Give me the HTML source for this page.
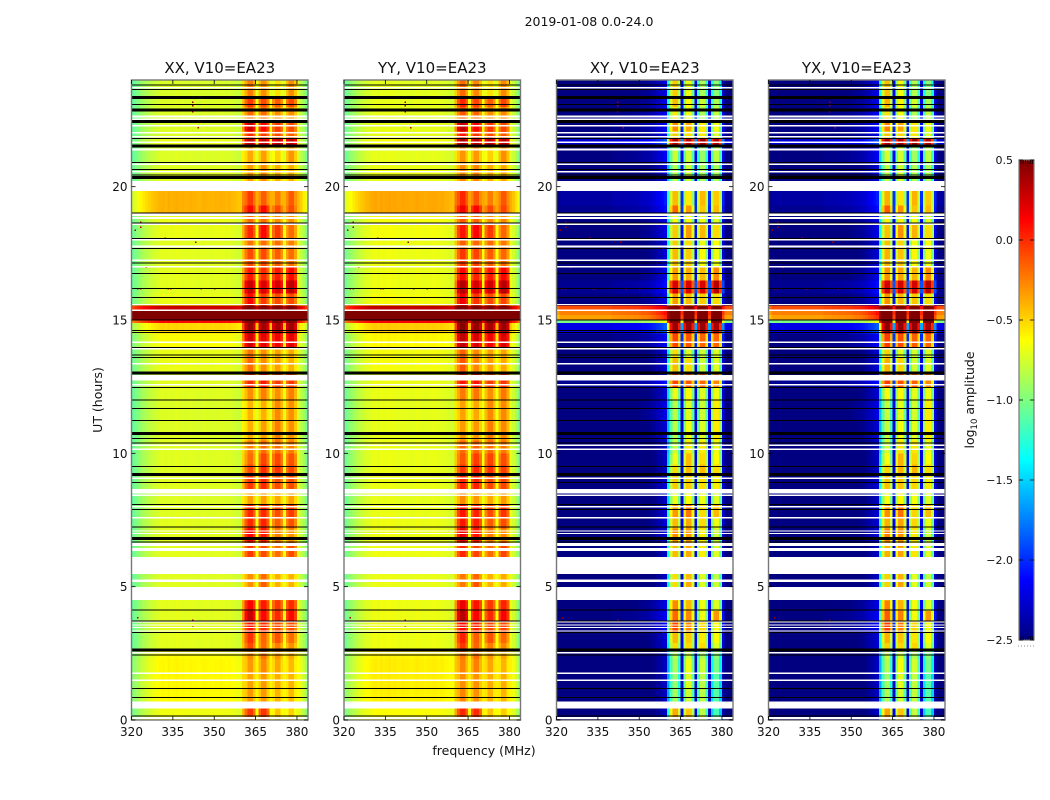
<!DOCTYPE html>
<html lang="en">
<head>
<meta charset="utf-8">
<title>2019-01-08 0.0-24.0</title>
<style>
html,body{margin:0;padding:0;background:#fff}
svg{display:block}
text{font-family:"DejaVu Sans","Liberation Sans",sans-serif;fill:#111}
</style>
</head>
<body>
<svg id="figure" xmlns="http://www.w3.org/2000/svg" width="1050" height="800" viewBox="0 0 1050 800">
<text x="589" y="26" font-size="12.5" text-anchor="middle">2019-01-08 0.0-24.0</text>
<text x="484" y="755" font-size="12.5" text-anchor="middle">frequency (MHz)</text>
<text transform="translate(102,400) rotate(-90)" font-size="12.5" text-anchor="middle">UT (hours)</text>
<g id="panels"></g>
<g id="colorbar"></g>
<text transform="translate(974,400) rotate(-90)" font-size="12.5" text-anchor="middle">log<tspan font-size="8.5" dy="3">10</tspan><tspan dy="-3"> amplitude</tspan></text>
</svg>
<script>
// Time-band edges of the heatmap rows (UT hours)
const timeEdges = [0,.2,.44,.7,1.2,1.8,2.3,2.6,2.9,3.3,3.7,4.1,4.5,5,5.3,5.5,6.12,6.7,7.2,7.6,8.1,8.6,9.2,9.6,10,10.5,11.2,12,12.5,13,13.6,14,14.5,14.9,15,15.2,15.4,15.55,16,16.5,17,17.7,18,18.65,19,19.3,19.85,20.2,20.9,21.5,21.8,22.1,22.45,23,23.35,24];
// Row levels in log10 amplitude: [out-of-band, sub-band 1, 2, 3, 4]
const xxLevels = [
[-.52,-.05,.02,-.36,-.4],[-.52,.03,.05,-.38,-.42],[-.52,-.22,-.22,-.37,-.37],[-.47,-.25,-.25,-.33,-.35],[-.46,-.28,-.25,-.31,-.33],
[-.46,-.25,-.2,-.29,-.35],[-.48,-.22,-.14,-.25,-.31],[-.56,-.02,-.12,-.17,-.22],[-.56,.05,-.1,-.04,-.12],[-.56,.13,.08,-.02,-.02],
[-.56,.35,.18,.08,.18],[-.56,.2,.13,.03,.08],[-.56,-.02,-.02,-.02,-.02],[-.57,-.22,-.07,-.32,-.32],[-.57,-.22,-.12,-.32,-.32],
[-.57,-.22,-.12,-.22,-.22],[-.56,.03,-.02,-.12,-.02],[-.56,.2,.13,-.17,-.22],[-.56,.08,.1,-.07,-.04],[-.57,.08,.08,-.02,.03],
[-.58,-.27,-.27,-.3,-.27],[-.57,.03,.08,-.02,-.02],[-.57,-.02,.08,.06,0],[-.57,-.12,0,0,-.04],[-.57,-.17,-.12,-.12,-.17],
[-.58,-.32,-.27,-.17,-.22],[-.58,-.34,-.32,-.2,-.22],[-.57,-.22,-.17,-.22,-.17],[-.56,.08,.13,.03,.03],[-.54,-.12,-.22,-.27,-.32],
[-.54,-.14,-.22,-.27,-.3],[-.49,.33,.28,.23,.28],[-.36,.5,.48,.46,.48],[.26,.68,.68,.68,.68],[.98,.98,.98,.98,.98],
[.98,.98,.98,.98,.98],[.43,.68,.68,.68,.68],[-.54,.18,.03,-.02,-.02],[-.56,.36,.3,.33,.4],[-.56,.13,.08,.13,.18],
[-.56,-.02,-.02,-.07,-.12],[-.56,-.14,-.12,-.12,-.17],[-.54,.08,.18,.03,-.12],[-.54,-.12,-.12,-.22,-.22],[-.25,.18,.18,-.02,-.02],
[-.25,.03,-.07,-.17,-.07],[-.25,-.02,-.02,-.12,-.12],[-.57,-.27,-.22,-.32,-.32],[-.58,-.3,-.27,-.42,-.24],[-.54,.38,.36,.38,.38],
[-.58,.08,.03,-.02,-.07],[-.58,.33,.18,.03,-.02],[-.58,-.12,-.12,-.22,-.22],[-.58,.03,-.02,-.07,-.02],[-.59,-.17,-.22,-.47,-.22]
];
const xyLevels = [
[-2.5,-.35,-.45,-.8,-1.1],[-2.5,-.4,-.5,-.85,-1.2],[-2.4,-.8,-.8,-.9,-1.1],[-2.5,-.9,-.8,-.85,-1.15],[-2.5,-.95,-.75,-.85,-1.15],
[-2.5,-.9,-.7,-.8,-1.05],[-2.5,-.85,-.8,-.9,-1],[-2.45,-.55,-.55,-.55,-.75],[-2.45,-.45,-.5,-.6,-.65],[-2.35,-.1,-.3,-.55,-.65],
[-2.35,-.2,-.3,-.7,-.35],[-2.4,-.3,-.45,-.7,-.75],[-2.5,-.5,-.5,-.7,-.8],[-2.5,-.55,-.4,-.75,-.8],[-2.5,-.55,-.45,-.75,-.85],
[-2.5,-.55,-.45,-.7,-.8],[-2.5,-.45,-.4,-.6,-.75],[-2.45,-.3,-.35,-.6,-.8],[-2.45,-.45,-.4,-.55,-.7],[-2.45,-.35,-.25,-.55,-.45],
[-2.5,-.7,-.65,-.7,-.75],[-2.45,-.5,-.5,-.55,-.6],[-2.5,-.55,-.45,-.45,-.55],[-2.5,-.7,-.45,-.55,-.65],[-2.5,-.8,-.6,-.6,-.7],
[-2.45,-.85,-.7,-.75,-.6],[-2.4,-.85,-.75,-.8,-.6],[-2.45,-.7,-.65,-.75,-.7],[-2.3,-.1,-.15,-.2,-.3],[-2.45,-.45,-.55,-.8,-.75],
[-2.45,-.55,-.75,-.8,-.75],[-2.35,-.1,-.15,-.2,-.2],[-2.05,.4,.4,.4,.35],[-.85,.8,.8,.8,.8],[-.2,.95,.95,.95,.95],
[-.1,.95,.95,.95,.95],[.05,.8,.8,.8,.8],[-2.4,-.35,-.45,-.5,-.55],[-2.3,.2,.2,.2,.3],[-2.4,-.35,-.4,-.45,-.3],
[-2.45,-.45,-.5,-.65,-.7],[-2.45,-.5,-.55,-.7,-.65],[-2.4,-.5,-.35,-.45,-.55],[-2.4,-.65,-.65,-.7,-.75],[-2.3,-.2,-.35,-.5,-.45],
[-2.25,-.45,-.6,-.45,-.5],[-2.3,-.5,-.6,-.5,-.5],[-2.45,-.85,-.8,-.9,-.9],[-2.35,-.8,-.8,-.95,-.85],[-2.1,.3,.3,.35,.3],
[-2.4,-.5,-.55,-.6,-.75],[-2.35,-.3,-.4,-.6,-.7],[-2.35,-.6,-.7,-.9,-.85],[-2.4,-.45,-.65,-.8,-.9],[-2.4,-.5,-.7,-.9,-1]
];
// Per-polarisation offsets, [out-of-band, sub-band 1..4]
const xxOffset = [-.15,-.12,-.12,-.12,-.12];
const yyOffset = [-.12,-.06,-.1,-.12,-.1];
const xyOffset = [-.15,-.05,-.05,-.05,-.05];
const yxOffset = [-.15,-.02,-.03,-.03,-.05];
// Channel structure (one entry per MHz, 320..383)
const channelGroup = [1,1,1,1,1,1,1,1,1,1,1,1,1,1,1,1,1,1,1,1,1,1,1,1,1,1,1,1,1,1,1,1,1,1,1,1,1,1,1,1,1,1,1,1,1,1,2,2,2,2,2,3,3,3,3,3,4,4,4,4,4,4,4,4];
const xxBlend = [0,0,0,0,0,0,0,0,0,0,0,0,0,0,0,0,0,0,0,0,0,0,0,0,0,0,0,0,0,0,0,0,0,0,0,0,0,0,0,0,.45,1,1,1,1,.08,1,1,1,1,.08,1,1,1,1,.08,1,1,1,1,.05,0,0,0];
const xyBlend = [0,0,0,0,0,0,0,0,0,0,0,0,0,0,0,0,0,0,0,0,0,0,0,0,0,0,0,0,0,0,0,0,0,0,0,0,0,0,0,0,.6,1,1,1,1,.22,1,1,1,1,.22,1,1,1,1,.22,1,1,1,1,.2,0,0,0];
const xxShape = [-.35,-.3,-.25,-.2,-.16,-.12,-.09,-.06,-.04,-.02,0,.01,-.01,.02,0,.01,.02,0,.01,0,0,.01,0,0,-.01,0,.01,0,0,-.01,0,0,.01,0,-.01,0,-.02,-.03,-.05,-.06,0,-.1,.05,.05,-.12,0,-.1,.05,.05,-.12,0,-.1,.05,.05,-.12,0,-.1,.05,.05,-.12,-.02,-.08,-.18,-.3];
const xyShape = [-.1,0,0,0,0,0,0,0,0,0,0,0,0,0,0,0,0,0,0,0,.03,.03,.03,.04,.04,.05,.05,.05,.06,.06,.08,.1,.1,.12,.15,.18,.22,.25,.3,.35,0,-.25,.08,.08,-.3,0,-.25,.08,.08,-.3,0,-.25,.08,.08,-.3,0,-.25,.08,.08,-.3,0,0,0,0];
// Flagged data
const blackThin = [23.81,23.65,23.09,21.81,20.91,20.65,20.44,19.02,18.63,18.06,17.69,17.13,16.75,16.19,15.85,15,14.6,14.54,13.96,13.69,13.6,12.46,12,11.69,11.24,10.56,10.38,9.51,8.91,8.09,7.9,7.23,6.68,4.13,3.71,3.29,2.44,1.19,.85,.15];
const blackThick = [23.35,22.88,22.44,21.53,20.34,13.02,10.74,9.2,6.81,2.63];
const whiteGaps = [[23.68,23.74],[22.47,22.56],[22.6,22.66],[22.26,22.31],[22,22.05],[21.85,21.9],[21.64,21.7],[21.36,21.43],[20.81,20.87],[20.53,20.59],[19.84,20.22],[18.9,18.99],[18.79,18.86],[18.56,18.62],[17.98,18.03],[17.72,17.79],[17.21,17.27],[16.97,17.03],[15.56,15.6],[15.34,15.39],[14.14,14.2],[13.9,13.95],[13.33,13.39],[12.73,12.94],[12.54,12.6],[10.28,10.33],[10.13,10.18],[9.04,9.09],[8.5,8.66],[8.4,8.45],[7.97,8.03],[7.56,7.61],[7.07,7.11],[6.98,7.01],[6.52,6.64],[6.34,6.45],[5.48,6.12],[5.18,5.27],[4.5,4.98],[3.66,3.7],[3.54,3.58],[3.45,3.49],[3.32,3.36],[2.49,2.55],[1.72,1.78],[1.46,1.52],[.44,.69],[.03,.12]];
// Isolated interference pixels
const speckleFreq = [342,342,342,344,323,321,323,332,329,343,325,322,323,333,334,345,350,342,342,322];
const speckleTime = [23.2,23.06,22.83,22.23,18.7,18.4,18.5,18.1,18.03,17.95,17,16.2,16.2,16.2,16.2,16.2,16.2,3.77,3.5,3.87];
const speckleLevel = [.4,.4,.4,.3,.4,.4,.4,.2,.2,.4,.2,.3,.3,.3,.3,.3,.3,.4,.4,.4];
// Axis ticks
const freqTicks = [320,335,350,365,380];
const timeTicks = [0,5,10,15,20];
const colorTicks = [0.5,0,-0.5,-1,-1.5,-2,-2.5];
const colorTickLabels = ['0.5','0.0','\u22120.5','\u22121.0','\u22121.5','\u22122.0','\u22122.5'];
const panelTitles = ['XX, V10=EA23','YY, V10=EA23','XY, V10=EA23','YX, V10=EA23'];

const SVGNS = 'http://www.w3.org/2000/svg';
const panelLefts = [131.5,344,556.5,768.5];
const panelWidth = 176.5, plotTop = 80, plotBottom = 720;
const fMin = 320, fMax = 384, tMin = 0, tMax = 24, cMin = -2.5, cMax = 0.5;
const cbLeft = 1019, cbWidth = 15, cbTop = 160, cbBottom = 640;
const xScale = (f, left) => left + (f - fMin) / (fMax - fMin) * panelWidth;
const yScale = t => plotBottom - (t - tMin) / (tMax - tMin) * (plotBottom - plotTop);
const cScale = v => cbBottom - (v - cMin) / (cMax - cMin) * (cbBottom - cbTop);
function jet(v) {
  const n = Math.min(1, Math.max(0, (v - cMin) / (cMax - cMin)));
  const ch = x => Math.round(255 * Math.min(1, Math.max(0, 1.5 - Math.abs(4 * n - x))));
  return 'rgb(' + ch(3) + ',' + ch(2) + ',' + ch(1) + ')';
}
function make(tag, parent, attrs, text) {
  const el = document.createElementNS(SVGNS, tag);
  for (const k in attrs) el.setAttribute(k, attrs[k]);
  if (text !== undefined) el.textContent = text;
  parent.appendChild(el);
  return el;
}
const panelsRoot = document.getElementById('panels');
const panelLevels = [xxLevels, xxLevels, xyLevels, xyLevels];
const panelOffsets = [xxOffset, yyOffset, xyOffset, yxOffset];
const panelBlends = [xxBlend, xxBlend, xyBlend, xyBlend];
const panelShapes = [xxShape, xxShape, xyShape, xyShape];
const panelKeys = ['xx', 'yy', 'xy', 'yx'];

panelKeys.forEach((key, p) => {
  const left = panelLefts[p];
  const g = make('g', panelsRoot, {'shape-rendering': 'crispEdges'});
  
  
  const levels = panelLevels[p], off = panelOffsets[p], blend = panelBlends[p], shape = panelShapes[p];
  levels.forEach((row, r) => {
    const y0 = yScale(timeEdges[r + 1]), y1 = yScale(timeEdges[r]);
    channelGroup.forEach((grp, c) => {
      const low = row[0] + off[0];
      const high = row[grp] + off[grp];
      const v = low + blend[c] * (high - low) + shape[c];
      const x0 = xScale(fMin + c, left), x1 = xScale(fMin + c + 1, left);
      const cell = make('rect', g, {x: x0.toFixed(2), y: y0.toFixed(2), width: (x1 - x0 + .3).toFixed(2), height: (y1 - y0 + .3).toFixed(2), fill: jet(v)});
      
      
    });
  });
  speckleFreq.forEach((f, i) => {
    const s = make('rect', g, {x: xScale(f, left).toFixed(2), y: yScale(speckleTime[i]).toFixed(2), width: 1.5, height: 1.5, fill: jet(speckleLevel[i])});
    
    
  });
  whiteGaps.forEach(gap => {
    const y0 = yScale(gap[1]), y1 = yScale(gap[0]);
    const w = make('rect', g, {x: left, y: y0.toFixed(2), width: panelWidth, height: Math.max(1, y1 - y0).toFixed(2), fill: '#fff'});
    
    
  });
  blackThin.forEach(t => {
    const b = make('rect', g, {x: left, y: (yScale(t) - .5).toFixed(2), width: panelWidth, height: 1, fill: '#000'});
    
    
  });
  blackThick.forEach(t => {
    const b = make('rect', g, {x: left, y: (yScale(t) - 1.5).toFixed(2), width: panelWidth, height: 3, fill: '#000'});
    
    
  });
  const axisG = make('g', panelsRoot, {});
  
  
  const frame = make('rect', axisG, {x: left, y: plotTop, width: panelWidth, height: plotBottom - plotTop, fill: 'none', stroke: '#777', 'stroke-width': 1.4});
  
  
  freqTicks.forEach(f => {
    const x = xScale(f, left);
    const tb = make('line', axisG, {x1: x, x2: x, y1: plotBottom, y2: plotBottom - 4, stroke: '#000', 'stroke-width': .8});
    
    
    const tt = make('line', axisG, {x1: x, x2: x, y1: plotTop, y2: plotTop + 4, stroke: '#000', 'stroke-width': .8});
    
    
    const lab = make('text', axisG, {x: x, y: 736, 'font-size': 12, 'text-anchor': 'middle'}, String(f));
    
    
  });
  timeTicks.forEach(t => {
    const y = yScale(t);
    const tl = make('line', axisG, {x1: left, x2: left + 4, y1: y, y2: y, stroke: '#000', 'stroke-width': .8});
    
    
    const tr = make('line', axisG, {x1: left + panelWidth, x2: left + panelWidth - 4, y1: y, y2: y, stroke: '#000', 'stroke-width': .8});
    
    
    const lab = make('text', axisG, {x: left - 4, y: y + 4.5, 'font-size': 12, 'text-anchor': 'end'}, String(t));
    
    
  });
  const title = make('text', axisG, {x: left + panelWidth / 2, y: 73, 'font-size': 15, 'text-anchor': 'middle'}, panelTitles[p]);
  
  
});

// Colorbar
const cb = document.getElementById('colorbar');
const cbGrad = make('g', cb, {'shape-rendering': 'crispEdges'});


for (let y = cbTop; y < cbBottom; y += 2) {
  const v = cMax - (y + 1 - cbTop) / (cbBottom - cbTop) * (cMax - cMin);
  const seg = make('rect', cbGrad, {x: cbLeft, y: cScale(v) - 1, width: cbWidth, height: 2.2, fill: jet(v)});
  
  
}
const cbFrame = make('rect', cb, {x: cbLeft, y: cbTop, width: cbWidth, height: cbBottom - cbTop, fill: 'none', stroke: '#777', 'stroke-width': 1.2});


colorTicks.forEach((v, i) => {
  const y = cScale(v);
  const a = make('line', cb, {x1: cbLeft, x2: cbLeft + 4, y1: y, y2: y, stroke: '#000', 'stroke-width': .8});
  
  
  const b = make('line', cb, {x1: cbLeft + cbWidth, x2: cbLeft + cbWidth - 4, y1: y, y2: y, stroke: '#000', 'stroke-width': .8});
  
  
  const lab = make('text', cb, {x: 1013, y: y + 4, 'font-size': 11, 'text-anchor': 'end'}, colorTickLabels[i]);
  
  
});
const cbEnds = make('g', cb, {});


for (let k = 0; k < 6; k++) {
  const x = cbLeft + 2 + k * 2.3;
  make('line', cbEnds, {x1: x, x2: x, y1: cbTop, y2: cbTop + 4, stroke: '#000', 'stroke-width': .7});
  make('line', cbEnds, {x1: x, x2: x, y1: cbBottom, y2: cbBottom - 4, stroke: '#000', 'stroke-width': .7});
}
const dots = make('line', cb, {x1: 1018, x2: 1035, y1: 646, y2: 646, stroke: '#888', 'stroke-width': 1, 'stroke-dasharray': '1 2'});


</script>
</body>
</html>
